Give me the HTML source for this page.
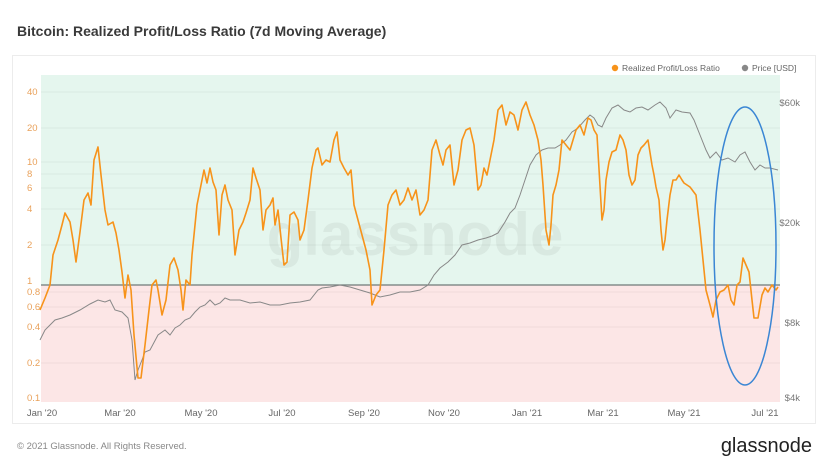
<!DOCTYPE html>
<html><head><meta charset="utf-8"><style>
body{margin:0;width:828px;height:466px;background:#fff;font-family:"Liberation Sans",sans-serif;overflow:hidden}
</style></head><body>
<svg width="828" height="466" xmlns="http://www.w3.org/2000/svg" font-family="Liberation Sans, sans-serif">
<text x="17" y="36" font-size="14" font-weight="bold" fill="#3a3a3a">Bitcoin: Realized Profit/Loss Ratio (7d Moving Average)</text>
<rect x="12.5" y="55.5" width="803" height="368" fill="#fff" stroke="#ececec"/>
<rect x="41" y="75" width="739" height="210" fill="#e5f6ee"/>
<rect x="41" y="285" width="739" height="117" fill="#fce6e6"/>
<g stroke="#000" stroke-opacity="0.05">
<line x1="41" x2="780" y1="92" y2="92"/><line x1="41" x2="780" y1="128" y2="128"/><line x1="41" x2="780" y1="162" y2="162"/><line x1="41" x2="780" y1="174" y2="174"/><line x1="41" x2="780" y1="188" y2="188"/><line x1="41" x2="780" y1="209" y2="209"/><line x1="41" x2="780" y1="245" y2="245"/><line x1="41" x2="780" y1="292" y2="292"/><line x1="41" x2="780" y1="307" y2="307"/><line x1="41" x2="780" y1="327" y2="327"/><line x1="41" x2="780" y1="363" y2="363"/>
</g>
<line x1="41" x2="780" y1="285" y2="285" stroke="#6f7a78" stroke-width="1.3"/>
<text x="415" y="255" font-size="60" fill="#000" fill-opacity="0.05" text-anchor="middle" font-weight="bold">glassnode</text>
<g font-size="9.5" fill="#e9a15a">
<text x="27" y="95">40</text><text x="27" y="131">20</text><text x="27" y="165">10</text><text x="27" y="177">8</text><text x="27" y="191">6</text><text x="27" y="212">4</text><text x="27" y="248">2</text><text x="27" y="284">1</text><text x="27" y="295">0.8</text><text x="27" y="310">0.6</text><text x="27" y="330">0.4</text><text x="27" y="366">0.2</text><text x="27" y="401">0.1</text>
</g>
<g font-size="9.5" fill="#777" text-anchor="end">
<text x="800" y="106">$60k</text><text x="800" y="226">$20k</text><text x="800" y="326">$8k</text><text x="800" y="401">$4k</text>
</g>
<g font-size="9.5" fill="#666" text-anchor="middle">
<text x="42" y="416">Jan '20</text><text x="120" y="416">Mar '20</text><text x="201" y="416">May '20</text><text x="282" y="416">Jul '20</text><text x="364" y="416">Sep '20</text><text x="444" y="416">Nov '20</text><text x="527" y="416">Jan '21</text><text x="603" y="416">Mar '21</text><text x="684" y="416">May '21</text><text x="765" y="416">Jul '21</text>
</g>
<circle cx="615" cy="68" r="3.2" fill="#f7931a"/><text x="622" y="71" font-size="8.5" fill="#666">Realized Profit/Loss Ratio</text>
<circle cx="745" cy="68" r="3.2" fill="#888"/><text x="752" y="71" font-size="8.5" fill="#666">Price [USD]</text>
<polyline fill="none" stroke="#888" stroke-width="1" points="40,340 45,330 55,320 62,318 70,315 80,310 90,304 98,300 105,302 110,300 115,310 122,312 128,318 132,340 135,380 138,370 142,360 145,352 150,350 158,335 165,330 170,335 175,328 180,325 185,320 190,318 195,312 200,307 205,305 210,300 215,305 220,303 225,298 230,300 240,300 250,303 260,302 270,305 280,305 290,303 300,302 310,300 318,290 322,288 330,287 340,285 350,287 360,290 370,293 380,297 390,295 400,292 410,292 420,290 428,285 434,275 440,268 448,262 455,255 462,245 470,243 478,240 486,238 492,236 498,233 505,222 510,213 515,208 520,195 525,180 530,165 536,155 542,150 548,148 555,148 560,145 566,140 572,132 578,128 585,120 590,115 594,118 598,125 602,127 606,118 612,108 618,105 624,110 630,112 636,108 642,107 648,110 655,105 660,102 666,108 670,118 676,110 682,112 690,113 694,120 700,135 706,150 710,158 716,152 722,160 728,158 735,162 740,155 745,152 750,162 755,170 760,165 765,168 770,168 778,170"/>
<polyline fill="none" stroke="#f7931a" stroke-width="1.6" stroke-linejoin="round" points="40,310 45,298 50,285 53,255 58,240 62,225 65,213 70,222 73,240 76,262 80,232 84,200 88,193 91,205 94,160 98,147 101,175 105,210 108,225 113,222 116,233 119,250 122,272 125,298 128,275 131,290 134,335 138,378 141,378 145,345 149,310 152,285 156,280 158,290 162,315 166,300 170,265 174,258 178,270 181,290 183,310 186,280 190,285 192,255 197,205 201,185 204,170 207,183 210,168 213,182 216,190 219,235 222,195 225,185 228,200 232,210 235,255 239,230 243,222 246,213 250,200 253,168 256,178 260,190 263,230 266,210 270,205 273,198 275,225 278,210 281,238 284,265 287,262 290,215 294,212 298,220 300,240 304,230 308,200 312,168 316,150 318,148 322,165 326,160 330,162 334,140 337,132 340,160 344,168 348,175 351,170 354,205 358,220 362,235 366,250 370,270 372,305 376,295 380,290 384,250 388,205 392,195 396,190 400,205 404,200 408,188 412,200 416,190 420,215 424,210 428,200 432,150 436,140 440,155 443,165 446,150 450,145 454,185 458,170 462,140 466,130 470,128 474,145 478,190 481,185 484,168 487,175 490,160 494,140 498,110 502,105 506,125 510,112 514,115 518,130 522,110 526,102 530,115 534,125 538,140 541,160 543,185 546,230 549,245 551,225 553,195 556,185 559,170 562,140 566,145 570,150 573,140 576,130 580,125 584,135 588,118 591,120 594,130 597,135 602,220 604,210 606,180 609,162 612,152 616,150 620,135 623,140 626,150 629,175 632,185 635,180 638,155 641,148 644,145 648,140 652,165 654,175 656,187 659,200 661,230 663,250 665,240 667,220 670,195 673,180 676,180 679,175 682,180 684,183 690,187 696,195 700,230 703,260 706,290 710,305 713,317 716,300 720,292 724,290 728,285 731,300 734,305 737,285 740,282 743,258 746,265 749,272 752,300 754,318 758,318 762,295 765,288 768,292 772,285 776,290 778,287"/>
<ellipse cx="745" cy="246" rx="31" ry="139" fill="none" stroke="#3a86d4" stroke-width="1.5"/>
<text x="17" y="449" font-size="9.5" fill="#888">© 2021 Glassnode. All Rights Reserved.</text>
<text x="812" y="452" font-size="20" fill="#222" text-anchor="end">glassnode</text>
</svg>
</body></html>
